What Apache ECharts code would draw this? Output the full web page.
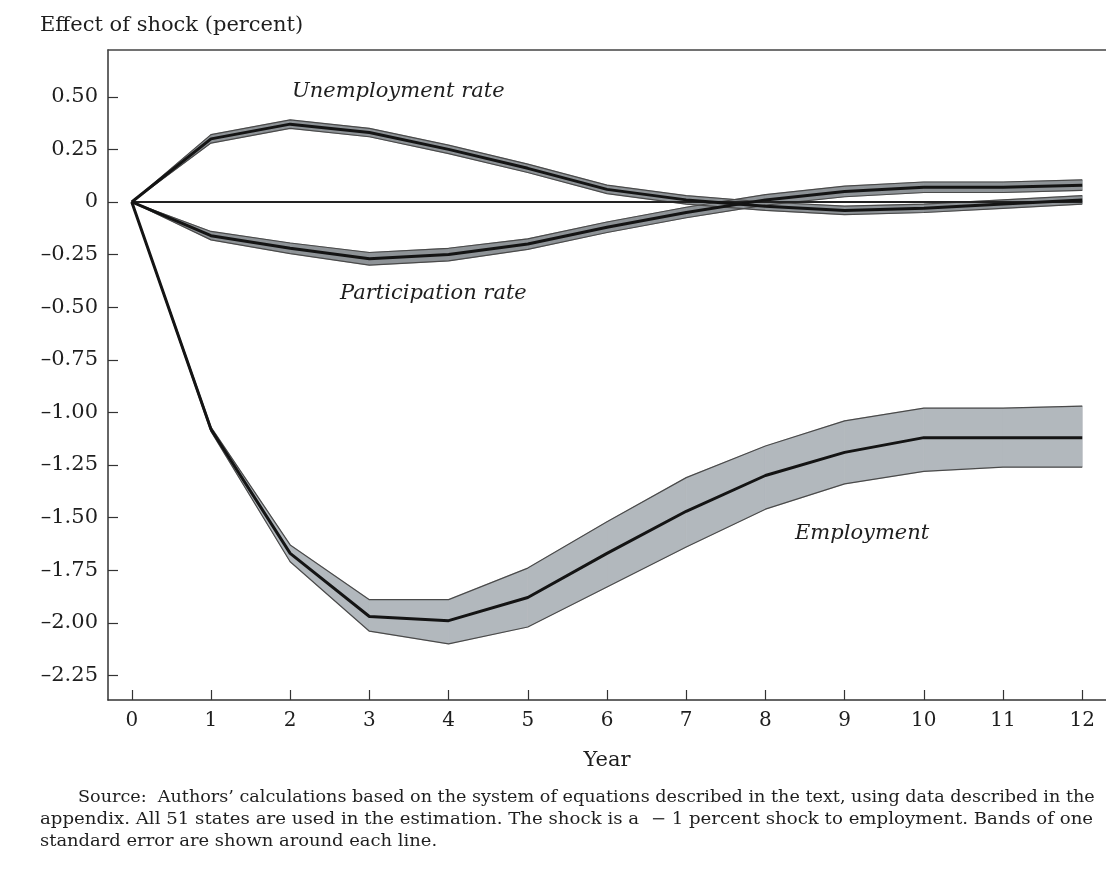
<!DOCTYPE html>
<html>
<head>
<meta charset="utf-8">
<script src="https://cdn.jsdelivr.net/npm/echarts@6/dist/echarts.min.js"></script>
<style>
  html, body { margin: 0; padding: 0; background: #fff; }
  #chart { width: 1106px; height: 869px; }
</style>
</head>
<body>
<div id="chart"></div>
<script>
// years after the shock
var years = [0, 1, 2, 3, 4, 5, 6, 7, 8, 9, 10, 11, 12];

// unemployment rate response and its one-s.e. band
var unempMid = [0, 0.30, 0.37, 0.33, 0.25, 0.16, 0.06, 0.01, -0.02, -0.04, -0.03, -0.01, 0.01];
var unempLo  = [0, 0.28, 0.35, 0.31, 0.23, 0.14, 0.04, -0.01, -0.04, -0.06, -0.05, -0.03, -0.01];
var unempHi  = [0, 0.32, 0.39, 0.35, 0.27, 0.18, 0.08, 0.03, 0.00, -0.02, -0.01, 0.01, 0.03];

// participation rate response
var partMid = [0, -0.16, -0.22, -0.27, -0.25, -0.20, -0.12, -0.05, 0.01, 0.05, 0.07, 0.07, 0.08];
var partLo  = [0, -0.18, -0.245, -0.30, -0.28, -0.225, -0.145, -0.075, -0.015, 0.025, 0.045, 0.045, 0.055];
var partHi  = [0, -0.14, -0.195, -0.24, -0.22, -0.175, -0.095, -0.025, 0.035, 0.075, 0.095, 0.095, 0.105];

// employment response
var empMid = [0, -1.08, -1.67, -1.97, -1.99, -1.88, -1.67, -1.47, -1.30, -1.19, -1.12, -1.12, -1.12];
var empLo  = [0, -1.09, -1.71, -2.04, -2.10, -2.02, -1.83, -1.64, -1.46, -1.34, -1.28, -1.26, -1.26];
var empHi  = [0, -1.07, -1.63, -1.89, -1.89, -1.74, -1.52, -1.31, -1.16, -1.04, -0.98, -0.98, -0.97];

var yTicks = [-2.25, -2.00, -1.75, -1.50, -1.25, -1.00, -0.75, -0.50, -0.25, 0, 0.25, 0.50];
var xTicks = [0, 1, 2, 3, 4, 5, 6, 7, 8, 9, 10, 11, 12];

var serif = '"DejaVu Serif", "Liberation Serif", serif';
var ink = '#1e1e1e';

function pairs(ys) {
    return years.map(function (x, i) { return [x, ys[i]]; });
}

// shaded band between lo and hi, one quad per year segment
function band(name, lo, hi, fill) {
    var segs = [];
    for (var i = 0; i < years.length - 1; i++) {
        segs.push([years[i], lo[i], hi[i], years[i + 1], lo[i + 1], hi[i + 1]]);
    }
    return {
        name: name + ' band',
        type: 'custom',
        silent: true,
        data: segs,
        encode: { x: [0, 3], y: [1, 2, 4, 5] },
        renderItem: function (params, api) {
            var a = api.coord([api.value(0), api.value(1)]);
            var b = api.coord([api.value(0), api.value(2)]);
            var c = api.coord([api.value(3), api.value(5)]);
            var d = api.coord([api.value(3), api.value(4)]);
            return {
                type: 'polygon',
                shape: { points: [a, b, c, d] },
                style: { fill: fill, stroke: fill, lineWidth: 0.8 }
            };
        }
    };
}
function edge(name, ys) {
    return {
        name: name,
        type: 'line',
        data: pairs(ys),
        symbol: 'none',
        silent: true,
        z: 3,
        lineStyle: { color: '#4a4a4a', width: 1.2 }
    };
}
function mid(name, ys) {
    return {
        name: name,
        type: 'line',
        data: pairs(ys),
        symbol: 'none',
        silent: true,
        z: 5,
        lineStyle: { color: '#141414', width: 3 }
    };
}

var chart = echarts.init(document.getElementById('chart'));

var series = [
    band('Employment', empLo, empHi, '#b2b8bd'),
    band('Participation', partLo, partHi, '#8e9397'),
    band('Unemployment', unempLo, unempHi, '#8e9397'),
    edge('emp lo', empLo), edge('emp hi', empHi),
    edge('part lo', partLo), edge('part hi', partHi),
    edge('unemp lo', unempLo), edge('unemp hi', unempHi),
    {
        name: 'zero',
        type: 'line',
        data: [[0, 0], [12, 0]],
        symbol: 'none',
        silent: true,
        z: 4,
        lineStyle: { color: '#222', width: 1.8 }
    },
    mid('Employment', empMid),
    mid('Participation rate', partMid),
    mid('Unemployment rate', unempMid)
];

function srcLine(txt, left, top, sx) {
    return {
        type: 'text', left: left, top: top, scaleX: sx, originX: 0,
        style: { text: txt, font: '16px ' + serif, fill: ink }
    };
}

var option = {
    backgroundColor: '#fff',
    animation: false,
    grid: { left: 108, top: 50, right: 0, bottom: 169 },
    xAxis: [{
        type: 'value',
        min: -0.3,
        max: 12.3,
        axisLine: { show: true, onZero: false, lineStyle: { color: '#333', width: 1.5 } },
        axisTick: { show: true, inside: true, length: 10, customValues: xTicks, lineStyle: { color: '#333', width: 1.2 } },
        axisLabel: {
            customValues: xTicks,
            color: ink, fontFamily: serif, fontSize: 20, margin: 11
        },
        splitLine: { show: false },
        name: 'Year',
        nameLocation: 'middle',
        nameGap: 50,
        nameTextStyle: { color: ink, fontFamily: serif, fontSize: 21 }
    }, {
        type: 'value',
        position: 'top',
        min: -0.3,
        max: 12.3,
        axisLine: { show: true, onZero: false, lineStyle: { color: '#444', width: 1.5 } },
        axisTick: { show: false },
        axisLabel: { show: false },
        splitLine: { show: false }
    }],
    yAxis: {
        type: 'value',
        min: -2.367,
        max: 0.7224,
        axisLine: { show: true, onZero: false, lineStyle: { color: '#333', width: 1.5 } },
        axisTick: { show: true, inside: true, length: 10, customValues: yTicks, lineStyle: { color: '#333', width: 1.2 } },
        axisLabel: {
            customValues: yTicks,
            color: ink, fontFamily: serif, fontSize: 21, margin: 10,
            formatter: function (v) {
                if (Math.abs(v) < 1e-9) return '0';
                return (v < 0 ? '\u2013' : '') + Math.abs(v).toFixed(2);
            }
        },
        splitLine: { show: false }
    },
    graphic: [{
        type: 'text', left: 40, top: 15,
        style: { text: 'Effect of shock (percent)', font: '21px ' + serif, fill: ink }
    }, {
        type: 'text', left: 292, top: 81,
        style: { text: 'Unemployment rate', font: 'italic 21px ' + serif, fill: ink }
    }, {
        type: 'text', left: 340, top: 283,
        style: { text: 'Participation rate', font: 'italic 21px ' + serif, fill: ink }
    }, {
        type: 'text', left: 795, top: 523,
        style: { text: 'Employment', font: 'italic 21px ' + serif, fill: ink }
    },
    srcLine('Source:  Authors\u2019 calculations based on the system of equations described in the text, using data described in the', 78, 790, 1.10),
    srcLine('appendix. All 51 states are used in the estimation. The shock is a  \u2212 1 percent shock to employment. Bands of one', 40, 812, 1.135),
    srcLine('standard error are shown around each line.', 40, 834, 1.12)
    ],
    series: series
};

chart.setOption(option, true);
window.addEventListener('resize', function () {
    chart.resize();
});
</script>
</body>
</html>
